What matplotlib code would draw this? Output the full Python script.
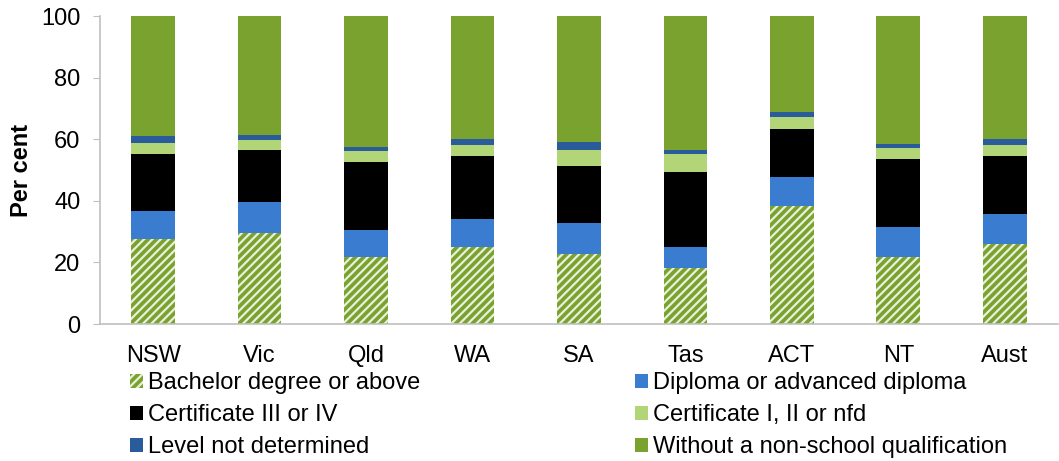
import matplotlib
matplotlib.use('Agg')
import matplotlib.pyplot as plt
import numpy as np

plt.rcParams['font.family'] = ['Liberation Sans', 'DejaVu Sans']
plt.rcParams['hatch.linewidth'] = 1.6

STATES = ['NSW', 'Vic', 'Qld', 'WA', 'SA', 'Tas', 'ACT', 'NT', 'Aust']

bachelor = [27.6, 29.6, 21.8, 24.9, 22.8, 18.2, 38.4, 21.8, 26.0]
diploma = [9.1, 9.9, 8.7, 9.3, 9.9, 6.7, 9.3, 9.8, 9.8]
cert_3_4 = [18.5, 17.1, 22.0, 20.3, 18.7, 24.5, 15.8, 21.9, 18.7]
cert_1_2 = [3.6, 3.1, 3.6, 3.7, 5.2, 5.7, 3.6, 3.7, 3.7]
not_determined = [2.2, 1.8, 1.4, 1.9, 2.4, 1.3, 1.7, 1.3, 1.9]
without = [39.0, 38.5, 42.5, 39.9, 41.0, 43.6, 31.2, 41.5, 39.9]

SERIES = [
    ('Bachelor degree or above', bachelor, '#79A22F'),
    ('Diploma or advanced diploma', diploma, '#3A7DD0'),
    ('Certificate III or IV', cert_3_4, '#000000'),
    ('Certificate I, II or nfd', cert_1_2, '#B2D677'),
    ('Level not determined', not_determined, '#2A5C9C'),
    ('Without a non-school qualification', without, '#79A22F'),
]
BAR_WIDTH = 0.41
FS = 17


def main():
    fig = plt.figure(figsize=(10.59, 4.61), dpi=100)
    ax = fig.add_axes([0.0944, 0.297, 0.9046, 0.668])

    x = np.arange(len(STATES))
    bottom = np.zeros(len(STATES))
    handles = {}
    for i, (label, vals, color) in enumerate(SERIES):
        vals = np.array(vals)
        if i == 0:
            h = ax.bar(x, vals, BAR_WIDTH, bottom=bottom, color=color,
                       edgecolor='#E8F0DA', hatch='////', linewidth=0, label=label)
        else:
            h = ax.bar(x, vals, BAR_WIDTH, bottom=bottom, color=color,
                       linewidth=0, label=label)
        handles[label] = h
        bottom += vals

    ax.set_xlim(-0.5, len(STATES) - 0.5)
    ax.set_ylim(0, 100)
    ax.set_yticks(range(0, 101, 20))
    ax.set_xticks(x)
    ax.set_xticklabels(STATES)
    ax.tick_params(axis='both', labelsize=FS, colors='#000000')
    ax.tick_params(axis='y', length=5, color='#BFBFBF', pad=9)
    ax.tick_params(axis='x', length=0, pad=15)
    for s in ['top', 'right']:
        ax.spines[s].set_visible(False)
    for s in ['left', 'bottom']:
        ax.spines[s].set_color('#BFBFBF')
        ax.spines[s].set_linewidth(1.2)
    ax.set_ylabel('Per cent', fontsize=FS, fontweight='bold', labelpad=6)

    order = [SERIES[0][0], SERIES[2][0], SERIES[4][0],
             SERIES[1][0], SERIES[3][0], SERIES[5][0]]
    fig.legend([handles[k] for k in order], order, ncol=2, loc='upper left',
               bbox_to_anchor=(0.114, 0.213), frameon=False, fontsize=FS,
               handlelength=0.55, handleheight=0.55, handletextpad=0.2,
               columnspacing=9.1, labelspacing=0.42, borderaxespad=0)

    fig.savefig('out.png', dpi=100)


if __name__ == '__main__':
    main()
